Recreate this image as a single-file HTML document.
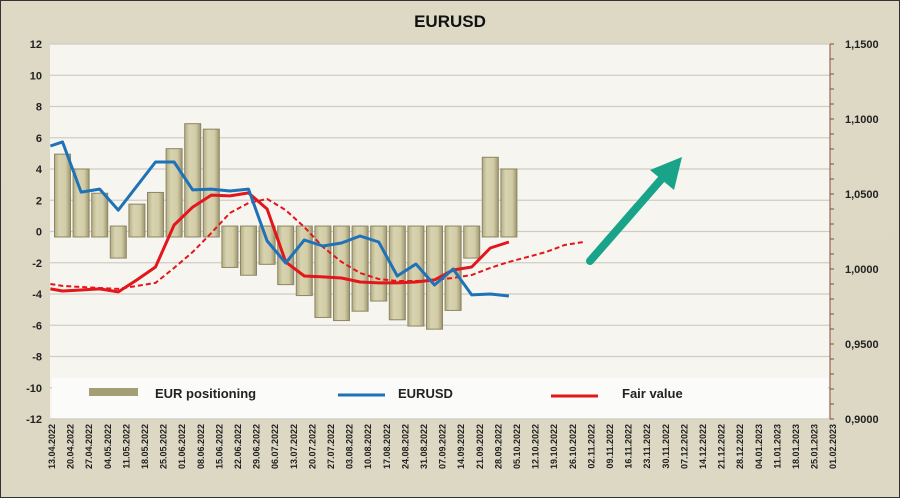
<!DOCTYPE html>
<html><head><meta charset="utf-8"><style>
body{margin:0;background:#dedac6;}
svg{display:block;font-family:"Liberation Sans",sans-serif;}
</style></head><body>
<svg id="c" width="900" height="498">
<defs>
<linearGradient id="bg" x1="0" x2="0" y1="0" y2="1"><stop offset="0" stop-color="#ddd9c5"/><stop offset="1" stop-color="#dcd8c3"/></linearGradient>
<linearGradient id="barg" x1="0" x2="1"><stop offset="0" stop-color="#b3ad86"/><stop offset="0.3" stop-color="#d8d3b0"/><stop offset="0.7" stop-color="#d2cca6"/><stop offset="1" stop-color="#9d9670"/></linearGradient>
</defs>
<rect x="0.5" y="0.5" width="899" height="497" fill="url(#bg)" stroke="#333"/>
<text x="450" y="27" text-anchor="middle" font-size="17" font-weight="bold" fill="#111">EURUSD</text>
<rect x="50" y="44" width="780" height="375" fill="#f6f5f0"/>
<g id="grid"></g><g id="bars"></g><g id="lines"></g><g id="axes"></g>
<g>
<line x1="590" y1="261" x2="665" y2="175" stroke="#19a389" stroke-width="8" stroke-linecap="round"/>
<polygon points="682,157 674,190 650,170" fill="#19a389"/>
</g>
<g>
<rect x="52" y="378" width="776" height="40" fill="#fbfbf9"/>
<rect x="89" y="388" width="49" height="8" fill="#a49e74"/>
<text x="155" y="398" font-size="13" font-weight="bold" fill="#222">EUR positioning</text>
<line x1="338" y1="395" x2="385" y2="395" stroke="#1f72b8" stroke-width="3"/>
<text x="398" y="398" font-size="13" font-weight="bold" fill="#222">EURUSD</text>
<line x1="551" y1="396" x2="598" y2="396" stroke="#e3161b" stroke-width="3"/>
<text x="622" y="398" font-size="13" font-weight="bold" fill="#222">Fair value</text>
</g>
</svg>
<script>
const dates=["13.04.2022","20.04.2022","27.04.2022","04.05.2022","11.05.2022","18.05.2022","25.05.2022","01.06.2022","08.06.2022","15.06.2022","22.06.2022","29.06.2022","06.07.2022","13.07.2022","20.07.2022","27.07.2022","03.08.2022","10.08.2022","17.08.2022","24.08.2022","31.08.2022","07.09.2022","14.09.2022","21.09.2022","28.09.2022","05.10.2022","12.10.2022","19.10.2022","26.10.2022","02.11.2022","09.11.2022","16.11.2022","23.11.2022","30.11.2022","07.12.2022","14.12.2022","21.12.2022","28.12.2022","04.01.2023","11.01.2023","18.01.2023","25.01.2023","01.02.2023"];
const positioning=[4.95,4.0,2.45,-1.7,1.75,2.5,5.3,6.9,6.55,-2.3,-2.8,-2.1,-3.4,-4.1,-5.5,-5.7,-5.1,-4.45,-5.65,-6.05,-6.25,-5.05,-1.7,4.75,4.0];
const lineIdx=[-0.65,0,1,2,3,4,5,6,7,8,9,10,11,12,13,14,15,16,17,18,19,20,21,22,23,24];
const eurusd=[1.082,1.0847,1.0513,1.0533,1.0393,1.0553,1.0713,1.0713,1.0527,1.0533,1.052,1.0533,1.0187,1.004,1.0193,1.0153,1.0173,1.022,1.018,0.9953,1.0033,0.9893,1.0,0.9827,0.9833,0.982];
const fairValue=[0.9867,0.9853,0.986,0.9867,0.9847,0.9927,1.0013,1.0293,1.0413,1.0493,1.0487,1.0507,1.04,1.0047,0.9953,0.9947,0.994,0.9913,0.9907,0.9907,0.9913,0.9927,0.9993,1.0013,1.014,1.018];
const dashIdx=[-0.65,0,1,2,3,4,5,6,7,8,9,10,11,12,13,14,15,16,17,18,19,20,21,22,23,24,25,26,27,28];
const fairValueAvg=[0.990,0.9887,0.988,0.9873,0.9867,0.9887,0.9907,1.0007,1.0113,1.024,1.0373,1.044,1.0467,1.0393,1.028,1.0147,1.0047,0.9973,0.9933,0.992,0.992,0.9927,0.994,0.996,1.0007,1.0047,1.008,1.0113,1.016,1.018];
const leftTicks=[12,10,8,6,4,2,0,-2,-4,-6,-8,-10,-12];
const rightTicks=["1,1500","1,1000","1,0500","1,0000","0,9500","0,9000"];
const rightVals=[1.15,1.10,1.05,1.00,0.95,0.90];
const NS="http://www.w3.org/2000/svg";
const yL=v=>231.5-v*15.625;
const yR=v=>44+(1.15-v)*1500;
const xC=i=>62.5+i*18.6;
const xLab=i=>52+i*18.6;
function mk(tag,attrs,parent){const e=document.createElementNS(NS,tag);for(const k in attrs)e.setAttribute(k,attrs[k]);document.getElementById(parent).appendChild(e);return e;}
leftTicks.forEach(t=>{
 const l=mk('line',{x1:50,x2:830,y1:yL(t),y2:yL(t),stroke:'#cfccc4','stroke-width':1.3},'grid');
 
 
 const tx=mk('text',{x:42,y:yL(t)+4,'text-anchor':'end','font-size':11,'font-weight':'bold',fill:'#222'},'axes');
 tx.textContent=t;
 
 
});
rightVals.forEach((v,i)=>{
 const tx=mk('text',{x:845,y:yR(v)+4,'font-size':11,'font-weight':'bold',fill:'#222'},'axes');
 tx.textContent=rightTicks[i];
 
 
});
const ax=mk('line',{x1:830,x2:830,y1:44,y2:419,stroke:'#8a4a3a','stroke-width':1},'axes');


for(let k=0;k<=25;k++){const tk=mk('line',{x1:830,x2:834,y1:44+k*15,y2:44+k*15,stroke:'#8a4a3a'},'axes');
 
 }
dates.forEach((d,i)=>{
 const x=xLab(i)+3;
 const tx=mk('text',{x:x,y:424,transform:`rotate(-90 ${x} 424)`,'text-anchor':'end','font-size':9,'font-weight':'bold',fill:'#222'},'axes');
 tx.textContent=d;
 
 
});
positioning.forEach((v,i)=>{
 const base=v>=0?yL(-0.35):yL(0.35);
 const top=yL(v);
 const y=Math.min(base,top),h=Math.abs(base-top);
 const r=mk('rect',{x:xC(i)-8,y:y,width:16,height:h,fill:'url(#barg)',stroke:'#8d8662','stroke-width':1},'bars');
 
 
});
function path(idx,vals){return idx.map((i,k)=>(k?'L':'M')+xC(i).toFixed(1)+','+yR(vals[k]).toFixed(1)).join(' ');}
const pd=mk('path',{d:path(dashIdx,fairValueAvg),fill:'none',stroke:'#e3161b','stroke-width':2,'stroke-dasharray':'5,3'},'lines');


const pr=mk('path',{d:path(lineIdx,fairValue),fill:'none',stroke:'#e3161b','stroke-width':3,'stroke-linejoin':'round'},'lines');


const pb=mk('path',{d:path(lineIdx,eurusd),fill:'none',stroke:'#1f72b8','stroke-width':3,'stroke-linejoin':'round'},'lines');


</script>
</body></html>
